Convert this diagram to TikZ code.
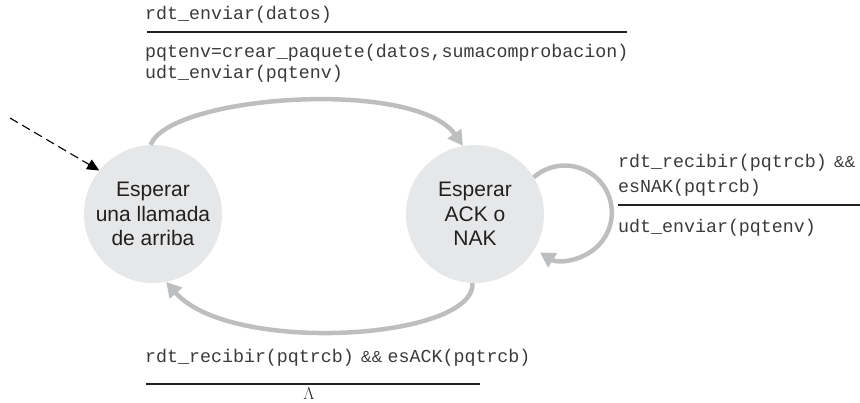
\documentclass[tikz,border=0pt]{standalone}
\usepackage{fontspec}
\setmainfont{Liberation Serif}
\setsansfont{Liberation Sans}
\setmonofont{Liberation Mono}
\usetikzlibrary{arrows.meta}
\definecolor{statefill}{HTML}{E6E7E8}
\definecolor{arrgray}{HTML}{BCBEC0}
\definecolor{ink}{HTML}{231F20}
\definecolor{codeink}{HTML}{3A3A3A}
\newcommand{\ampamp}{\hspace{7pt}{\sffamily\fontsize{16}{16}\selectfont\&\&}\hspace{5.5pt}}
\tikzset{
  fsmstate/.style={circle, fill=statefill, draw=none, minimum size=138pt, inner sep=0pt,
    align=center, text=ink, font=\sffamily\fontsize{21}{24.5}\selectfont},
  trans/.style={draw=arrgray, line width=4.5pt, -{Triangle[length=15pt,width=16pt]}},
  initarr/.style={draw=black, line width=1.1pt, dash pattern=on 9pt off 5pt,
    -{Triangle[length=12pt,width=11pt]}},
  codetext/.style={anchor=base west, inner sep=0pt, text=codeink,
    font=\ttfamily\fontsize{18.3}{20}\selectfont},
  rulebar/.style={draw=ink, line width=2pt},
}
\begin{document}
\begin{tikzpicture}[x=1pt,y=1pt]
\useasboundingbox (0,0) rectangle (860,402);
% states
\node[fsmstate] (A) at (153,188) {Esperar\\una llamada\\de arriba};
\node[fsmstate] (B) at (475,188) {Esperar\\ACK o\\NAK};
% initial arrow
\coordinate (init) at (10,284);
\draw[initarr] (init) -- (A.141);
% transitions
\draw[trans] (A.92) .. controls (170,307) and (415,324) .. (B.100);
\draw[trans] (B.268) .. controls (475,62) and (230,47) .. (A.281);
\draw[trans] (B.32) arc[start angle=131.5, end angle=-122, radius=47];
% top label
\node[codetext] (t1) at (145,382) {rdt\_enviar(datos)};
\coordinate (r1a) at (147,370);
\coordinate (r1b) at (627,370);
\draw[rulebar] (r1a) -- (r1b);
\node[codetext] (t2) at (145,344) {pqtenv=crear\_paquete(datos,sumacomprobacion)};
\node[codetext] (t3) at (145,323) {udt\_enviar(pqtenv)};
% right label
\node[codetext] (s1) at (618,234) {rdt\_recibir(pqtrcb)\ampamp};
\node[codetext] (s2) at (618,209) {esNAK(pqtrcb)};
\coordinate (r2a) at (618,197);
\coordinate (r2b) at (860,197);
\draw[rulebar] (r2a) -- (r2b);
\node[codetext] (s3) at (618,169) {udt\_enviar(pqtenv)};
% bottom label
\node[codetext] (b1) at (145,39) {rdt\_recibir(pqtrcb)\ampamp esACK(pqtrcb)};
\coordinate (r3a) at (146,18);
\coordinate (r3b) at (480,18);
\draw[rulebar] (r3a) -- (r3b);
\node[inner sep=0pt, text=ink, font=\fontsize{19}{19}\selectfont] (lam) at (309,8.5) {$\Lambda$};
\end{tikzpicture}
\end{document}
